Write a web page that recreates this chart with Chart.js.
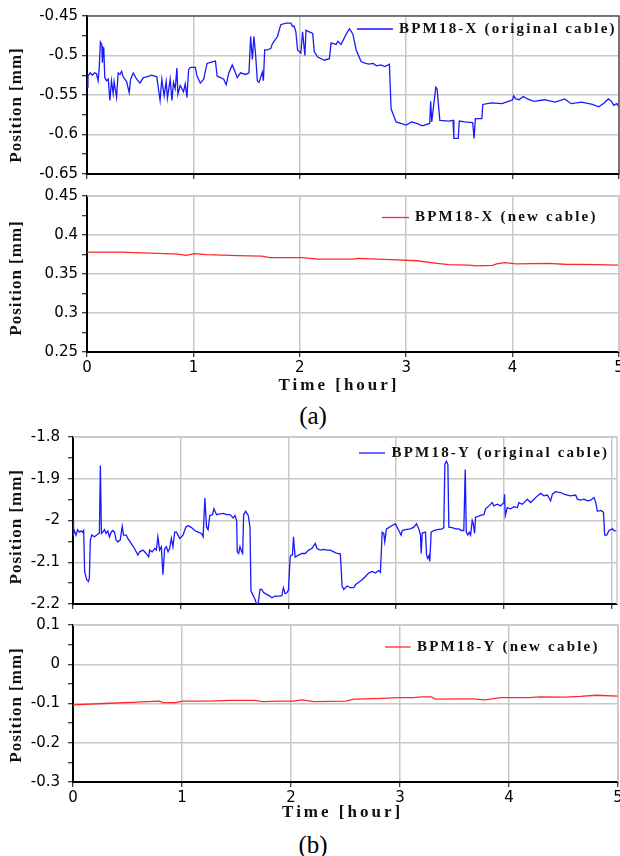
<!DOCTYPE html>
<html><head><meta charset="utf-8">
<script src="https://cdn.jsdelivr.net/npm/chart.js@4.4.0/dist/chart.umd.min.js"></script>
<style>
html,body{margin:0;padding:0;background:#fff;}
body{width:620px;height:856px;position:relative;overflow:hidden;}
canvas{position:absolute;left:0;}
.cap{position:absolute;left:0;width:626px;text-align:center;font-family:"Liberation Serif","Times New Roman",serif;font-size:25px;line-height:28px;color:#000;}
</style></head><body>
<canvas id="c1" width="620" height="186" style="top:0"></canvas>
<canvas id="c2" width="620" height="214" style="top:186px"></canvas>
<div class="cap" style="top:402px">(a)</div>
<canvas id="c3" width="620" height="188" style="top:428px"></canvas>
<canvas id="c4" width="620" height="214" style="top:616px"></canvas>
<div class="cap" style="top:831px">(b)</div>
<script>
// ---------- tick labels ----------
const hourLabels = ['0','1','2','3','4','5'];
const yLabelsX1 = ['-0.65','-0.6','-0.55','-0.5','-0.45'];
const yLabelsX2 = ['0.25','0.3','0.35','0.4','0.45'];
const yLabelsY1 = ['-2.2','-2.1','-2','-1.9','-1.8'];
const yLabelsY2 = ['-0.3','-0.2','-0.1','0','0.1'];

// ---------- BPM18-X (original cable) ----------
const tX1 = [0,0.009,0.03,0.05,0.07,0.089,0.104,0.115,0.126,0.139,0.145,0.152,0.158,0.167,0.183,0.2,0.215,0.23,0.246,0.255,0.278,0.293,0.31,0.325,0.34,0.372,0.397,0.41,0.435,0.467,0.498,0.529,0.561,0.609,0.656,0.687,0.703,0.725,0.744,0.756,0.782,0.798,0.813,0.829,0.845,0.854,0.876,0.907,0.923,0.939,0.955,0.971,1.018,1.034,1.065,1.097,1.128,1.176,1.207,1.223,1.254,1.285,1.308,1.333,1.365,1.396,1.412,1.443,1.491,1.522,1.538,1.554,1.569,1.585,1.601,1.617,1.648,1.658,1.67,1.696,1.727,1.743,1.79,1.821,1.869,1.916,1.932,1.947,1.963,1.979,2.01,2.026,2.048,2.058,2.089,2.121,2.136,2.168,2.231,2.278,2.294,2.341,2.357,2.388,2.436,2.467,2.499,2.53,2.577,2.62,2.65,2.69,2.72,2.76,2.8,2.842,2.858,2.905,2.95,3.0,3.05,3.1,3.15,3.221,3.23,3.24,3.278,3.29,3.316,3.4,3.44,3.448,3.489,3.499,3.55,3.625,3.638,3.65,3.711,3.72,3.8,3.9,3.96,4.0,4.01,4.03,4.06,4.1,4.14,4.2,4.3,4.4,4.49,4.55,4.65,4.75,4.81,4.86,4.9,4.93,4.95,4.98,5.0];
const vX1 = [-0.540,-0.526,-0.522,-0.525,-0.522,-0.523,-0.532,-0.515,-0.483,-0.486,-0.509,-0.490,-0.491,-0.528,-0.532,-0.530,-0.557,-0.532,-0.548,-0.533,-0.553,-0.522,-0.524,-0.520,-0.527,-0.533,-0.547,-0.530,-0.522,-0.530,-0.535,-0.528,-0.527,-0.525,-0.527,-0.557,-0.530,-0.551,-0.533,-0.554,-0.530,-0.557,-0.534,-0.542,-0.516,-0.549,-0.538,-0.546,-0.536,-0.553,-0.518,-0.515,-0.515,-0.526,-0.535,-0.530,-0.510,-0.508,-0.507,-0.526,-0.528,-0.530,-0.537,-0.522,-0.512,-0.522,-0.528,-0.522,-0.524,-0.522,-0.476,-0.505,-0.476,-0.500,-0.532,-0.534,-0.521,-0.532,-0.493,-0.493,-0.491,-0.485,-0.476,-0.461,-0.459,-0.459,-0.463,-0.463,-0.470,-0.493,-0.497,-0.470,-0.500,-0.468,-0.470,-0.472,-0.495,-0.502,-0.506,-0.504,-0.484,-0.486,-0.482,-0.486,-0.473,-0.466,-0.473,-0.493,-0.508,-0.510,-0.511,-0.510,-0.513,-0.512,-0.514,-0.511,-0.5675,-0.584,-0.586,-0.588,-0.584,-0.586,-0.589,-0.586,-0.558,-0.584,-0.540,-0.542,-0.582,-0.583,-0.582,-0.605,-0.605,-0.583,-0.584,-0.585,-0.605,-0.580,-0.580,-0.562,-0.560,-0.561,-0.558,-0.556,-0.551,-0.555,-0.556,-0.552,-0.555,-0.558,-0.556,-0.559,-0.555,-0.561,-0.559,-0.562,-0.565,-0.560,-0.555,-0.558,-0.563,-0.561,-0.565];

// ---------- BPM18-X (new cable) ----------
const tX2 = [0,0.30,0.673,0.85,0.934,1.009,1.121,1.42,1.644,1.719,2.018,2.167,2.354,2.504,2.541,2.915,3.102,3.289,3.401,3.587,3.662,3.812,3.849,3.924,4.036,4.335,4.484,4.783,5.0];
const vX2 = [0.378,0.378,0.3764,0.3755,0.374,0.376,0.3748,0.3735,0.373,0.371,0.371,0.369,0.369,0.369,0.370,0.368,0.367,0.3636,0.362,0.3615,0.3605,0.361,0.363,0.3645,0.363,0.3636,0.3625,0.362,0.3615];

// ---------- BPM18-Y (original cable) ----------
const tY1 = [0,0.005,0.012,0.028,0.043,0.059,0.075,0.09,0.099,0.108,0.127,0.143,0.152,0.161,0.174,0.199,0.23,0.245,0.254,0.264,0.276,0.292,0.307,0.323,0.338,0.354,0.369,0.385,0.401,0.416,0.438,0.457,0.469,0.494,0.509,0.54,0.571,0.602,0.618,0.649,0.68,0.702,0.711,0.736,0.758,0.774,0.788,0.804,0.82,0.835,0.851,0.867,0.882,0.897,0.913,0.928,0.944,0.96,0.975,0.991,1.021,1.047,1.068,1.1,1.13,1.161,1.193,1.208,1.224,1.24,1.254,1.27,1.295,1.308,1.333,1.363,1.394,1.426,1.457,1.487,1.503,1.519,1.525,1.538,1.55,1.566,1.575,1.584,1.603,1.627,1.643,1.652,1.668,1.69,1.705,1.72,1.736,1.752,1.767,1.799,1.829,1.845,1.876,1.907,1.939,1.953,1.969,1.985,2.0,2.016,2.025,2.037,2.047,2.062,2.093,2.125,2.156,2.187,2.218,2.249,2.265,2.295,2.326,2.358,2.389,2.42,2.452,2.482,2.498,2.513,2.545,2.575,2.606,2.622,2.652,2.684,2.715,2.745,2.777,2.808,2.838,2.854,2.87,2.885,2.894,2.91,2.931,2.963,2.993,3.024,3.046,3.056,3.086,3.133,3.164,3.189,3.21,3.226,3.232,3.242,3.272,3.282,3.294,3.307,3.312,3.325,3.35,3.381,3.428,3.442,3.452,3.467,3.48,3.489,3.52,3.551,3.582,3.604,3.628,3.641,3.651,3.665,3.678,3.691,3.706,3.716,3.728,3.737,3.753,3.783,3.814,3.83,3.861,3.892,3.907,3.939,3.969,4.0,4.006,4.013,4.032,4.062,4.093,4.125,4.139,4.171,4.202,4.217,4.248,4.279,4.311,4.341,4.372,4.403,4.434,4.45,4.48,4.527,4.558,4.589,4.62,4.666,4.682,4.713,4.744,4.775,4.806,4.837,4.853,4.868,4.899,4.924,4.936,4.955,4.976,5.007,5.022,5.053];
const vY1 = [-1.996,-2.031,-2.024,-2.035,-2.022,-2.028,-2.025,-2.028,-2.024,-2.122,-2.142,-2.146,-2.138,-2.047,-2.035,-2.039,-2.033,-2.030,-1.868,-2.031,-2.028,-2.022,-2.031,-2.025,-2.039,-2.028,-2.024,-2.028,-2.047,-2.051,-2.047,-2.014,-2.035,-2.035,-2.043,-2.055,-2.067,-2.083,-2.075,-2.071,-2.079,-2.087,-2.071,-2.075,-2.067,-2.071,-2.039,-2.071,-2.063,-2.130,-2.067,-2.063,-2.075,-2.067,-2.043,-2.063,-2.028,-2.028,-2.035,-2.043,-2.035,-2.016,-2.012,-2.017,-2.024,-2.028,-2.031,-2.039,-1.946,-2.016,-2.022,-1.988,-1.986,-1.972,-1.986,-1.984,-1.983,-1.986,-1.986,-1.994,-1.988,-2.000,-2.075,-2.079,-2.063,-2.075,-2.079,-1.986,-1.978,-1.988,-2.016,-2.169,-2.177,-2.189,-2.201,-2.197,-2.165,-2.165,-2.172,-2.177,-2.181,-2.185,-2.181,-2.181,-2.180,-2.161,-2.175,-2.173,-2.167,-2.087,-2.083,-2.083,-2.039,-2.088,-2.083,-2.079,-2.079,-2.071,-2.067,-2.055,-2.067,-2.071,-2.069,-2.071,-2.071,-2.075,-2.079,-2.080,-2.157,-2.165,-2.157,-2.161,-2.161,-2.154,-2.148,-2.142,-2.134,-2.126,-2.122,-2.126,-2.120,-2.124,-2.028,-2.031,-2.051,-2.020,-2.017,-2.012,-2.008,-2.024,-2.035,-2.024,-2.022,-2.020,-2.016,-2.008,-2.020,-2.035,-2.079,-2.030,-2.028,-2.083,-2.091,-2.083,-2.098,-2.028,-2.024,-2.022,-2.020,-2.017,-1.865,-1.858,-1.866,-2.016,-2.017,-2.020,-2.020,-2.024,-2.024,-1.878,-2.028,-2.035,-2.028,-2.035,-2.000,-2.008,-2.031,-1.992,-1.991,-1.988,-1.986,-1.972,-1.965,-1.957,-1.965,-1.961,-1.965,-1.957,-1.937,-1.988,-1.969,-1.972,-1.967,-1.969,-1.957,-1.961,-1.953,-1.949,-1.957,-1.949,-1.941,-1.935,-1.941,-1.939,-1.953,-1.937,-1.931,-1.933,-1.937,-1.939,-1.941,-1.939,-1.949,-1.951,-1.949,-1.953,-1.951,-1.945,-1.957,-1.978,-1.976,-1.980,-2.035,-2.035,-2.024,-2.020,-2.024,-2.025];

// ---------- BPM18-Y (new cable) ----------
const tY2 = [0,0.281,0.536,0.791,0.827,0.937,1.009,1.228,1.447,1.665,1.738,1.884,2.019,2.103,2.212,2.504,2.577,2.832,2.977,3.123,3.196,3.287,3.324,3.524,3.67,3.779,3.925,4.034,4.18,4.289,4.508,4.654,4.8,5.0];
const vY2 = [-0.1034,-0.100,-0.097,-0.094,-0.098,-0.098,-0.094,-0.094,-0.092,-0.092,-0.095,-0.094,-0.094,-0.091,-0.095,-0.094,-0.089,-0.087,-0.085,-0.085,-0.083,-0.083,-0.089,-0.088,-0.088,-0.091,-0.085,-0.085,-0.085,-0.083,-0.084,-0.082,-0.079,-0.081];

const BLUE = 'rgb(25,25,255)';
const RED = 'rgb(255,40,40)';
const GRID = 'rgb(200,200,200)';

function pts(t, v){ return t.map((x, i) => ({x: x, y: v[i]})); }

const decor = {
  id: 'decor',
  afterDraw(chart, args, o) {
    const ctx = chart.ctx, a = chart.chartArea;
    ctx.save();
    // top and right frame
    ctx.strokeStyle = o.frameColor; ctx.lineWidth = 1.5;
    ctx.beginPath(); ctx.moveTo(a.left, a.top); ctx.lineTo(a.right, a.top); ctx.lineTo(a.right, a.bottom); ctx.stroke();
    // legend
    const ly = a.top + o.legY;
    ctx.strokeStyle = o.color; ctx.lineWidth = 1.3;
    ctx.beginPath(); ctx.moveTo(a.right - o.legLine[0], ly); ctx.lineTo(a.right - o.legLine[1], ly); ctx.stroke();
    ctx.fillStyle = '#111';
    ctx.font = 'bold 15px "Liberation Serif"';
    ctx.letterSpacing = '2.2px';
    ctx.textBaseline = 'middle'; ctx.textAlign = 'left';
    ctx.fillText(o.label, a.right - o.legText, ly);
    // x title
    if (o.xTitle) {
      ctx.font = 'bold 17px "Liberation Serif"';
      ctx.letterSpacing = '3px';
      ctx.textAlign = 'center';
      ctx.fillText(o.xTitle, o.xTitleX, o.xTitleY);
    }
    // y title
    ctx.font = 'bold 17px "Liberation Serif"';
    ctx.letterSpacing = '1px';
    ctx.textAlign = 'center';
    ctx.translate(17, o.yTitleY); ctx.rotate(-Math.PI / 2);
    ctx.fillText('Position [mm]', 0, 0);
    ctx.restore();
  }
};

function makeChart(id, c) {
  const isMajor = v => Math.abs((v - c.yMin) / c.yMajor - Math.round((v - c.yMin) / c.yMajor)) < 1e-6;
  return new Chart(document.getElementById(id), {
    type: 'line',
    data: { datasets: [{ data: pts(c.t, c.v), borderColor: c.color, borderWidth: 1.3, pointRadius: 0, tension: 0, fill: false }] },
    options: {
      responsive: false, animation: false, devicePixelRatio: 1, events: [],
      layout: { padding: { top: c.padTop, right: c.padRight, left: 0, bottom: 0 } },
      plugins: { legend: { display: false }, tooltip: { enabled: false },
        decor: { frameColor: c.frameColor, color: c.color, label: c.label, legY: c.legY, legLine: c.legLine, legText: c.legText,
                 xTitle: c.xTitle, xTitleX: c.xTitleX, xTitleY: c.xTitleY, yTitleY: c.yTitleY } },
      scales: {
        x: {
          type: 'linear', min: 0, max: c.xMax,
          afterFit(s) { s.height = c.xH; s.paddingLeft = 0; s.paddingRight = 0; },
          ticks: { display: c.xLabels, stepSize: 1, includeBounds: false, autoSkip: false, maxRotation: 0, padding: 2,
                   font: { family: 'DejaVu Sans', size: 15 }, color: '#000',
                   callback: v => hourLabels[Math.round(v)] },
          grid: { color: GRID, lineWidth: 1.5, tickColor: '#000', tickLength: 5, tickWidth: 1 },
          border: { color: '#000', width: 2 }
        },
        y: {
          min: c.yMin, max: c.yMax,
          afterFit(s) { s.width = c.yW; s.paddingTop = 0; s.paddingBottom = 0; },
          ticks: { stepSize: c.yMajor / 2, includeBounds: false, autoSkip: false, padding: c.yPad,
                   font: { family: 'DejaVu Sans', size: 15 }, color: '#000',
                   callback: v => isMajor(v) ? c.yLabels[Math.round((v - c.yMin) / c.yMajor)] : '' },
          grid: { color: g => (g.tick && isMajor(g.tick.value)) ? GRID : 'rgba(0,0,0,0)', lineWidth: 1.5,
                  tickColor: '#000', tickLength: 5, tickWidth: 1 },
          border: { color: '#000', width: 2 }
        }
      }
    },
    plugins: [decor]
  });
}

makeChart('c1', { t: tX1, v: tX1.length ? vX1 : [], color: BLUE, label: 'BPM18-X (original cable)',
  yMin: -0.65, yMax: -0.45, yMajor: 0.05, yLabels: yLabelsX1, yW: 87, yPad: 4,
  xMax: 5, xH: 12, xLabels: false, padTop: 16, padRight: 1, frameColor: '#555',
  legY: 13, legLine: [262, 226], legText: 220, yTitleY: 105 });
makeChart('c2', { t: tX2, v: vX2, color: RED, label: 'BPM18-X (new cable)',
  yMin: 0.25, yMax: 0.45, yMajor: 0.05, yLabels: yLabelsX2, yW: 87, yPad: 4,
  xMax: 5, xH: 48, xLabels: true, padTop: 10, padRight: 1, frameColor: GRID,
  legY: 21.5, legLine: [237, 210], legText: 204, xTitle: 'Time [hour]', xTitleX: 339, xTitleY: 200, yTitleY: 92 });
makeChart('c3', { t: tY1, v: vY1, color: BLUE, label: 'BPM18-Y (original cable)',
  yMin: -2.2, yMax: -1.8, yMajor: 0.1, yLabels: yLabelsY1, yW: 73, yPad: 8,
  xMax: 5.05, xH: 12, xLabels: false, padTop: 9, padRight: 3, frameColor: GRID,
  legY: 16, legLine: [258, 232], legText: 225.5, yTitleY: 98.7 });
makeChart('c4', { t: tY2, v: vY2, color: RED, label: 'BPM18-Y (new cable)',
  yMin: -0.3, yMax: 0.1, yMajor: 0.1, yLabels: yLabelsY2, yW: 73, yPad: 8,
  xMax: 5, xH: 48, xLabels: true, padTop: 9, padRight: 2, frameColor: GRID,
  legY: 22, legLine: [233, 207.4], legText: 201, xTitle: 'Time [hour]', xTitleX: 342.6, xTitleY: 197, yTitleY: 89 });
</script>
</body></html>
